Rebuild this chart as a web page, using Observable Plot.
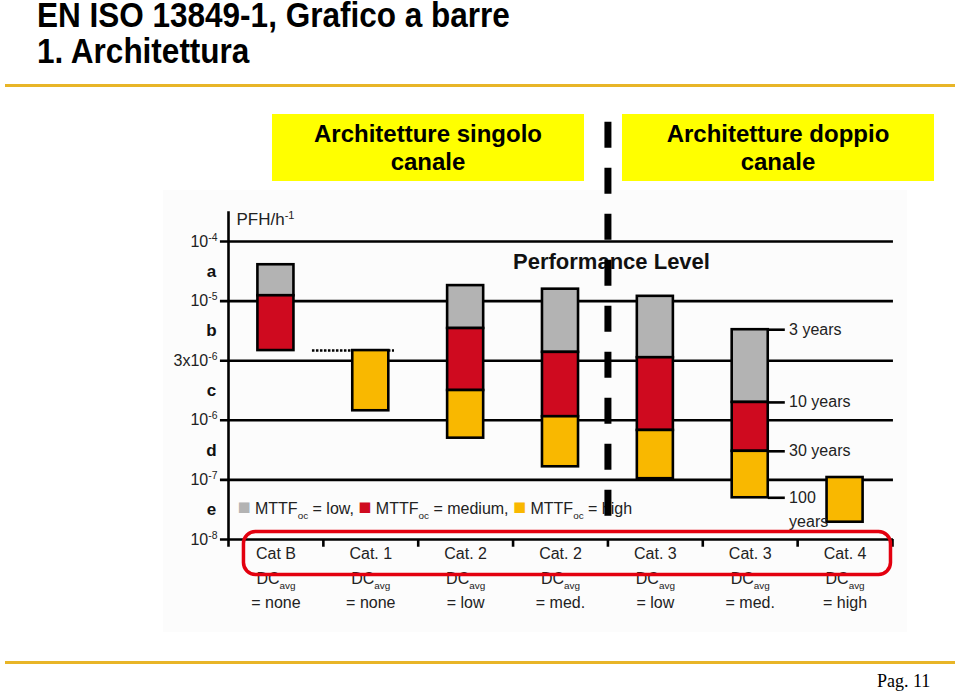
<!DOCTYPE html>
<html>
<head>
<meta charset="utf-8">
<script src="https://cdn.jsdelivr.net/npm/d3@7"></script>
<script src="https://cdn.jsdelivr.net/npm/@observablehq/plot@0.6"></script>
<style>
  body { margin: 0; background: #fff; }
  #page { position: relative; width: 960px; height: 693px; overflow: hidden; background: #fff;
          font-family: "Liberation Sans", Arial, sans-serif; }
  .title { position: absolute; left: 37px; top: -3px; font-size: 35px; font-weight: bold; line-height: 36px; color: #000;
           white-space: nowrap; transform: scaleX(0.9); transform-origin: 0 0; }
  .rule { position: absolute; left: 5px; width: 950px; height: 3px; background: #e8b527; }
  .box { position: absolute; top: 114px; width: 312px; height: 67px; background: #ffff00;
         font-size: 24px; font-weight: bold; line-height: 28px; text-align: center; box-sizing: border-box; padding-top: 6px; color: #000; }
  .chartbg { position: absolute; left: 163px; top: 190px; width: 744px; height: 442px; background: #fcfcfc; }
  #chart { position: absolute; left: 0; top: 100px; }
  .page { position: absolute; left: 877px; top: 671px; font-family: "Liberation Serif", "Times New Roman", serif; font-size: 18px; color: #000; }
</style>
</head>
<body>
<div id="page">
  <div class="title">EN ISO 13849-1, Grafico a barre<br>1. Architettura</div>
  <div class="rule" style="top:84px"></div>
  <div class="box" style="left:272px">Architetture singolo<br>canale</div>
  <div class="box" style="left:622px">Architetture doppio<br>canale</div>
  <div class="chartbg"></div>
  <div id="chart"></div>
  <div class="rule" style="top:661px"></div>
  <div class="page">Pag. 11</div>
</div>
<script>
// ---- data ----
const categories = ["Cat B", "Cat. 1", "Cat. 2", "Cat. 2", "Cat. 3", "Cat. 3", "Cat. 4"];
const dcAvg = ["none", "none", "low", "med.", "low", "med.", "high"];
// PFH positions on the Performance-Level scale (0 = 10^-8, 1 = 10^-7, 2 = 10^-6, 3 = 3x10^-6, 4 = 10^-5, 5 = 10^-4)
const lowTop    = [4.61, null, 4.26, 4.20, 4.08, 3.52, null];
const mediumTop = [4.09, null, 3.54, 3.14, 3.05, 2.30, null];
const highTop   = [null, 3.17, 2.50, 2.06, 1.83, 1.48, 1.04];
const barBottom = [3.17, 2.16, 1.70, 1.22, 1.02, 0.70, 0.29];
const levelBase = ["10", "10", "10", "3x10", "10", "10"];
const levelExp  = ["-8", "-7", "-6", "-6", "-5", "-4"];
const plLetters = ["e", "d", "c", "b", "a"];
const mttfLevels = ["low", "medium", "high"];
const mttfColors = ["#b3b3b3", "#cf0a1f", "#f9b800"];
const mttfYears = ["3 years", "10 years", "30 years", "100\nyears"];
const yearsBar = 5;      // Cat. 3, DCavg = med.
const dottedBar = 1;     // Cat. 1 reference line

// ---- derived tables ----
const segments = [];
categories.forEach((c, i) => {
  if (lowTop[i] != null) segments.push({i, level: "low", y1: mediumTop[i] ?? highTop[i] ?? barBottom[i], y2: lowTop[i]});
  if (mediumTop[i] != null) segments.push({i, level: "medium", y1: highTop[i] ?? barBottom[i], y2: mediumTop[i]});
  if (highTop[i] != null) segments.push({i, level: "high", y1: barBottom[i], y2: highTop[i]});
});
const years = [lowTop[yearsBar], mediumTop[yearsBar], highTop[yearsBar], barBottom[yearsBar]]
  .map((v, k) => ({v, label: mttfYears[k]}));
const levels = levelBase.map((b, k) => ({v: k, label: b + "^{" + levelExp[k] + "}"}));
const letters = plLetters.map((l, k) => ({v: k + 0.5, l}));
const catRows = categories.map((c, i) => ({i, c, dc: "= " + dcAvg[i]}));
const legendText = mttfLevels.map((l, k) => "[[" + mttfColors[k] + "|■]] MTTF_{oc} = " + l).join(", ");

const half = 0.19;
const ink = "#222";

const chart = Plot.plot({
  width: 960,
  height: 545,
  style: {background: "transparent", overflow: "visible", fontFamily: "'Liberation Sans', Arial, sans-serif", fontSize: "16px"},
  x: {type: "linear", domain: [0, categories.length], range: [228, 892], axis: null},
  y: {type: "linear", domain: [0, 5], range: [439, 141], axis: null},
  color: {domain: mttfLevels, range: mttfColors},
  marks: [
    // level lines
    Plot.ruleY(d3.range(0, 6), {y: d => d, x1: () => -0.085, x2: () => categories.length + 0.01, stroke: "#000", strokeWidth: 2.6}),
    // y axis
    Plot.ruleX([0], {x: d => d, y1: () => -0.13, y2: () => 5.5, stroke: "#000", strokeWidth: 2.6}),
    // x ticks at category boundaries
    Plot.ruleX(d3.range(1, categories.length + 1), {x: d => d, y1: () => 0, y2: () => -0.13, stroke: "#000", strokeWidth: 2.6}),
    // dotted reference for Cat. 1
    Plot.ruleY([highTop[dottedBar]], {y: d => d, x1: () => dottedBar - 0.115, x2: () => dottedBar + 0.75, stroke: "#000", strokeWidth: 2.5, strokeDasharray: "2.5,1.5"}),
    // bars
    Plot.rectY(segments, {x1: d => d.i + 0.5 - half, x2: d => d.i + 0.5 + half, y1: "y1", y2: "y2", fill: "level", stroke: "#000", strokeWidth: 2.6}),
    // MTTF years ticks + labels
    Plot.ruleY(years, {y: "v", x1: () => yearsBar + 0.5 + half, x2: () => yearsBar + 0.5 + half + 0.18, stroke: "#000", strokeWidth: 2.6}),
    Plot.text(years, {y: "v", x: () => yearsBar + 0.5 + half + 0.22, text: "label", textAnchor: "start", lineAnchor: "top", dy: -12, lineHeight: 1.5, fontSize: 16, fill: ink}),
    // y labels
    Plot.text(levels, {x: () => 0, y: "v", text: "label", textAnchor: "end", dx: -11, fontSize: 16, fill: ink}),
    Plot.text(letters, {x: () => 0, y: "v", text: "l", dx: -17, fontSize: 17, fontWeight: "bold", fill: "#111"}),
    Plot.text(["PFH/h^{-1}"], {x: () => 0, y: () => 5.37, text: d => d, textAnchor: "start", dx: 8, fontSize: 17, fill: ink}),
    // title inside chart
    Plot.text(["Performance Level"], {x: () => 3, y: () => 4.65, text: d => d, textAnchor: "start", fontSize: 22, fontWeight: "bold", fill: "#111"}),
    // legend
    Plot.text([legendText], {x: () => 0, y: () => 0, text: d => d, textAnchor: "start", dx: 9, dy: -31, fontSize: 16, fill: ink}),
    // category labels
    Plot.text(catRows, {x: d => d.i + 0.5, y: () => 0, text: "c", dy: 14, fontSize: 16, fill: ink}),
    Plot.text(catRows, {x: d => d.i + 0.5, y: () => 0, text: () => "DC_{avg}", dy: 39, fontSize: 16, fill: ink}),
    Plot.text(catRows, {x: d => d.i + 0.5, y: () => 0, text: "dc", dy: 63, fontSize: 16, fill: ink}),
    // highlight around the category row
    Plot.rect([0], {x1: () => 0.163, x2: () => categories.length - 0.016, y1: () => 0.126, y2: () => -0.596, rx: 12, fill: "none", stroke: "#e3000f", strokeWidth: 3.5}),
    // single / dual channel separator
    Plot.ruleX([4], {x: d => d, y1: () => 7.0, y2: () => 0.35, stroke: "#000", strokeWidth: 7, strokeDasharray: "26,20"})
  ]
});

// rich text: _{sub}, ^{sup}, [[color|glyph]]
const NS = "http://www.w3.org/2000/svg";
const token = /(_\{[^}]*\}|\^\{[^}]*\}|\[\[[^\]]*\]\])/;
chart.querySelectorAll("text").forEach(t => {
  if (t.children.length) return;
  const s = t.textContent;
  if (!token.test(s)) return;
  const parts = s.split(token).filter(p => p !== "");
  t.textContent = "";
  let shift = 0;
  for (const p of parts) {
    const ts = document.createElementNS(NS, "tspan");
    let target = 0, content = p;
    if (p.startsWith("_{")) { target = 5; content = p.slice(2, -1); ts.setAttribute("font-size", "0.62em"); }
    else if (p.startsWith("^{")) { target = -6; content = p.slice(2, -1); ts.setAttribute("font-size", "0.65em"); }
    else if (p.startsWith("[[")) { const [c, g] = p.slice(2, -2).split("|"); content = g; ts.setAttribute("fill", c); ts.setAttribute("font-size", "1.35em"); }
    if (target - shift !== 0) ts.setAttribute("dy", target - shift);
    shift = target;
    ts.textContent = content;
    t.appendChild(ts);
  }
});

document.getElementById("chart").appendChild(chart);
</script>
</body>
</html>
